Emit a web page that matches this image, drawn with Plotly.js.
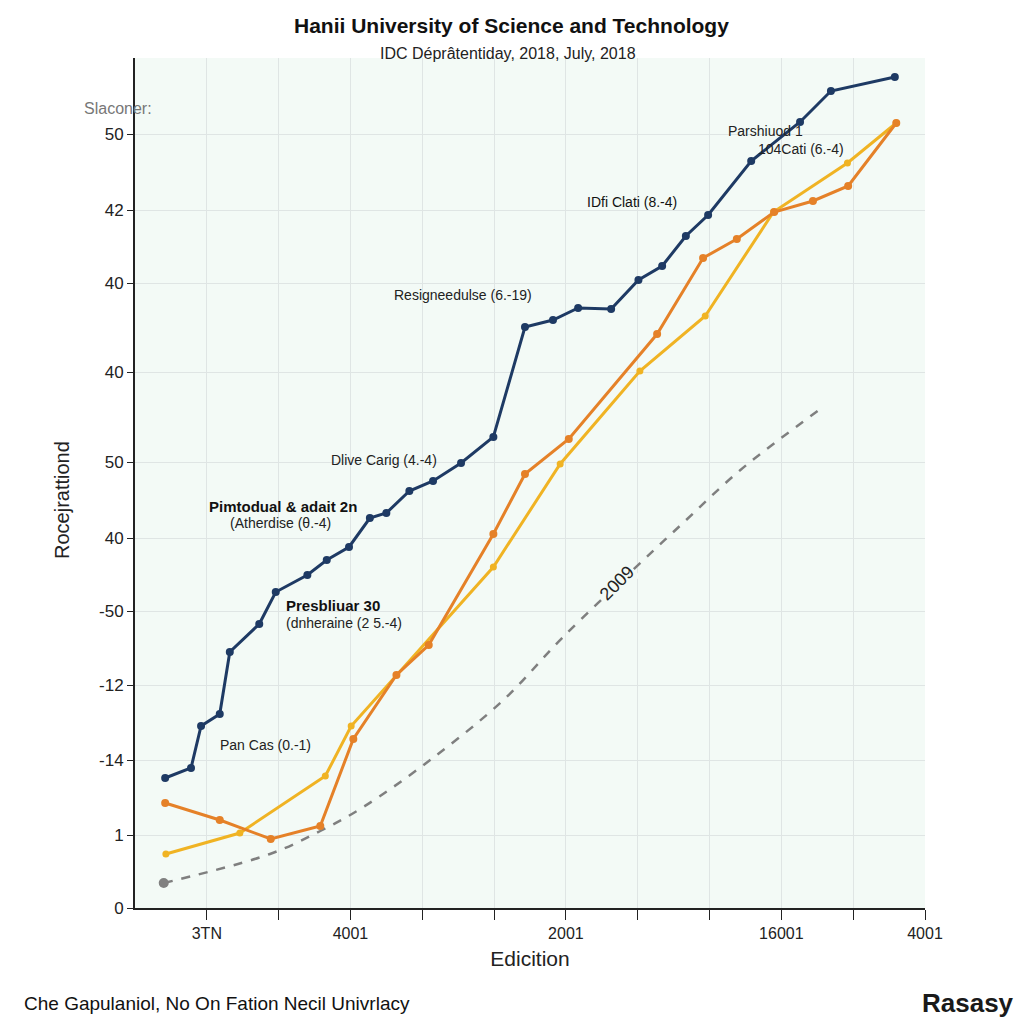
<!DOCTYPE html>
<html><head><meta charset="utf-8">
<script src="https://cdn.plot.ly/plotly-3.0.1.min.js"></script>
<style>html,body{margin:0;padding:0;background:#fff}#chart{width:1024px;height:1024px}</style>
</head><body><div id="chart"></div>
<script>
// Data (x in grid units, y in axis units)
const navyX = [0.42,0.78,0.92,1.18,1.32,1.73,1.96,2.40,2.67,2.98,3.27,3.50,3.82,4.15,4.54,4.99,5.43,5.82,6.17,6.63,7.01,7.34,7.67,7.98,8.58,9.26,9.69,10.58];
const navyY = [13.0,14.0,18.2,19.4,25.6,28.4,31.6,33.3,34.8,36.1,39.0,39.5,41.7,42.7,44.5,47.1,58.1,58.8,60.0,59.9,62.8,64.2,67.2,69.3,74.7,78.6,81.7,83.1];
const orangeX = [0.42,1.18,1.89,2.58,3.04,3.64,4.09,4.99,5.43,6.04,7.27,7.91,8.38,8.90,9.44,9.93,10.60];
const orangeY = [10.5,8.8,6.9,8.2,16.9,23.3,26.3,37.4,43.4,46.9,57.4,65.0,66.9,69.6,70.7,72.2,78.5];
const yellowX = [0.43,1.46,2.65,3.01,4.99,5.92,7.03,7.94,8.89,9.92,10.60];
const yellowY = [5.4,7.5,13.2,18.2,34.1,44.4,53.7,59.2,69.6,74.5,78.5];
const trendX = [0.40,1.88,2.58,3.18,4.11,5.13,5.96,7.08,7.63,8.43,9.58];
const trendY = [2.5,5.4,7.7,10.1,14.8,20.8,27.1,34.8,38.5,43.8,50.1];
const yTickVals = [0,7.3,14.8,22.3,29.7,37,44.6,53.6,62.5,69.8,77.4];
const yTickText = ["0","1","-14","-12","-50","40","50","40","40","42","50"];
const xTickVals = [1,2,3,4,5,6,7,8,9,10,11];
const xTickText = ["3TN","","4001","","","2001","","","16001","","4001"];

const W=1024,H=1024,L=135,R=925,T=58,B=908;
const px=x=>(x-L)/(R-L), py=y=>(B-y)/(B-T);
const ann=(x,y,text,opt={})=>Object.assign({xref:'paper',yref:'paper',x:px(x),y:py(y),text:text,showarrow:false,xanchor:'left',yanchor:'middle',font:{family:'Liberation Sans, Arial',size:14,color:'#222'}},opt);

const traces = [
 {x:trendX,y:trendY,mode:'lines',line:{color:'#7f7f7f',width:2.5,dash:'dash',shape:'spline'},hoverinfo:'none'},
 {x:[trendX[0]],y:[trendY[0]],mode:'markers',marker:{color:'#808080',size:10},hoverinfo:'none'},
 {x:yellowX,y:yellowY,mode:'lines+markers',line:{color:'#f0b323',width:3},marker:{color:'#f0b323',size:7}},
 {x:orangeX,y:orangeY,mode:'lines+markers',line:{color:'#e58128',width:3},marker:{color:'#e58128',size:8}},
 {x:navyX,y:navyY,mode:'lines+markers',line:{color:'#1e3a64',width:3},marker:{color:'#1e3a64',size:8}}
];

const layout = {
 width:W,height:H,showlegend:false,
 paper_bgcolor:'#ffffff',plot_bgcolor:'#f3faf6',
 margin:{l:L,r:W-R,t:T,b:H-B},
 xaxis:{range:[0,11],tickvals:xTickVals,ticktext:xTickText,showgrid:true,gridcolor:'#dfe5e4',gridwidth:1,
   showline:true,linecolor:'#222',linewidth:2,ticks:'outside',ticklen:10,tickcolor:'#222',zeroline:false,
   tickfont:{family:'Liberation Sans, Arial',size:16,color:'#222'},
   title:{text:'Edicition',font:{family:'Liberation Sans, Arial',size:21,color:'#222'},standoff:10}},
 yaxis:{range:[0,85],tickvals:yTickVals,ticktext:yTickText,showgrid:true,gridcolor:'#dfe5e4',gridwidth:1,
   showline:true,linecolor:'#222',linewidth:2,ticks:'outside',ticklen:6,tickcolor:'#222',zeroline:false,
   tickfont:{family:'Liberation Sans, Arial',size:17,color:'#222'}},
 annotations:[
  ann(511,25,'<b>Hanii University of Science and Technology</b>',{xanchor:'center',font:{family:'Liberation Sans, Arial',size:21,color:'#111'}}),
  ann(508,53,'IDC Déprâtentiday, 2018, July, 2018',{xanchor:'center',font:{family:'Liberation Sans, Arial',size:16,color:'#222'}}),
  ann(82,108,'Slaconer:',{font:{family:'Liberation Sans, Arial',size:16,color:'#777'}}),
  ann(62,500,'Rocejrattiond',{xanchor:'center',textangle:-90,font:{family:'Liberation Sans, Arial',size:20,color:'#222'}}),
  ann(726,131,'Parshiuod 1'),
  ann(756,149,'104Cati (6.-4)'),
  ann(585,202,'IDfi Clati (8.-4)',{font:{family:'Liberation Sans, Arial',size:14,color:'#111'}}),
  ann(392,295,'Resigneedulse (6.-19)'),
  ann(329,460,'Dlive Carig (4.-4)'),
  ann(207,506,'<b>Pimtodual &amp; adait 2n</b>',{font:{family:'Liberation Sans, Arial',size:15,color:'#111'}}),
  ann(228,523,'(Atherdise (θ.-4)'),
  ann(284,605,'<b>Presbliuar 30</b>',{font:{family:'Liberation Sans, Arial',size:15,color:'#111'}}),
  ann(284,623,'(dnheraine (2 5.-4)'),
  ann(218,745,'Pan Cas (0.-1)'),
  ann(617,583,'2009',{xanchor:'center',textangle:-45,bgcolor:'#f3faf6',font:{family:'Liberation Sans, Arial',size:18,color:'#222'}}),
  ann(22,1003,'Che Gapulaniol, No On Fation Necil Univrlacy',{font:{family:'Liberation Sans, Arial',size:19,color:'#111'}}),
  ann(1016,1003,'<b>Rasasy</b>',{xanchor:'right',font:{family:'Liberation Sans, Arial',size:26,color:'#1a1a1a'}})
 ]
};
Plotly.newPlot('chart',traces,layout,{staticPlot:true,displayModeBar:false});
</script></body></html>
